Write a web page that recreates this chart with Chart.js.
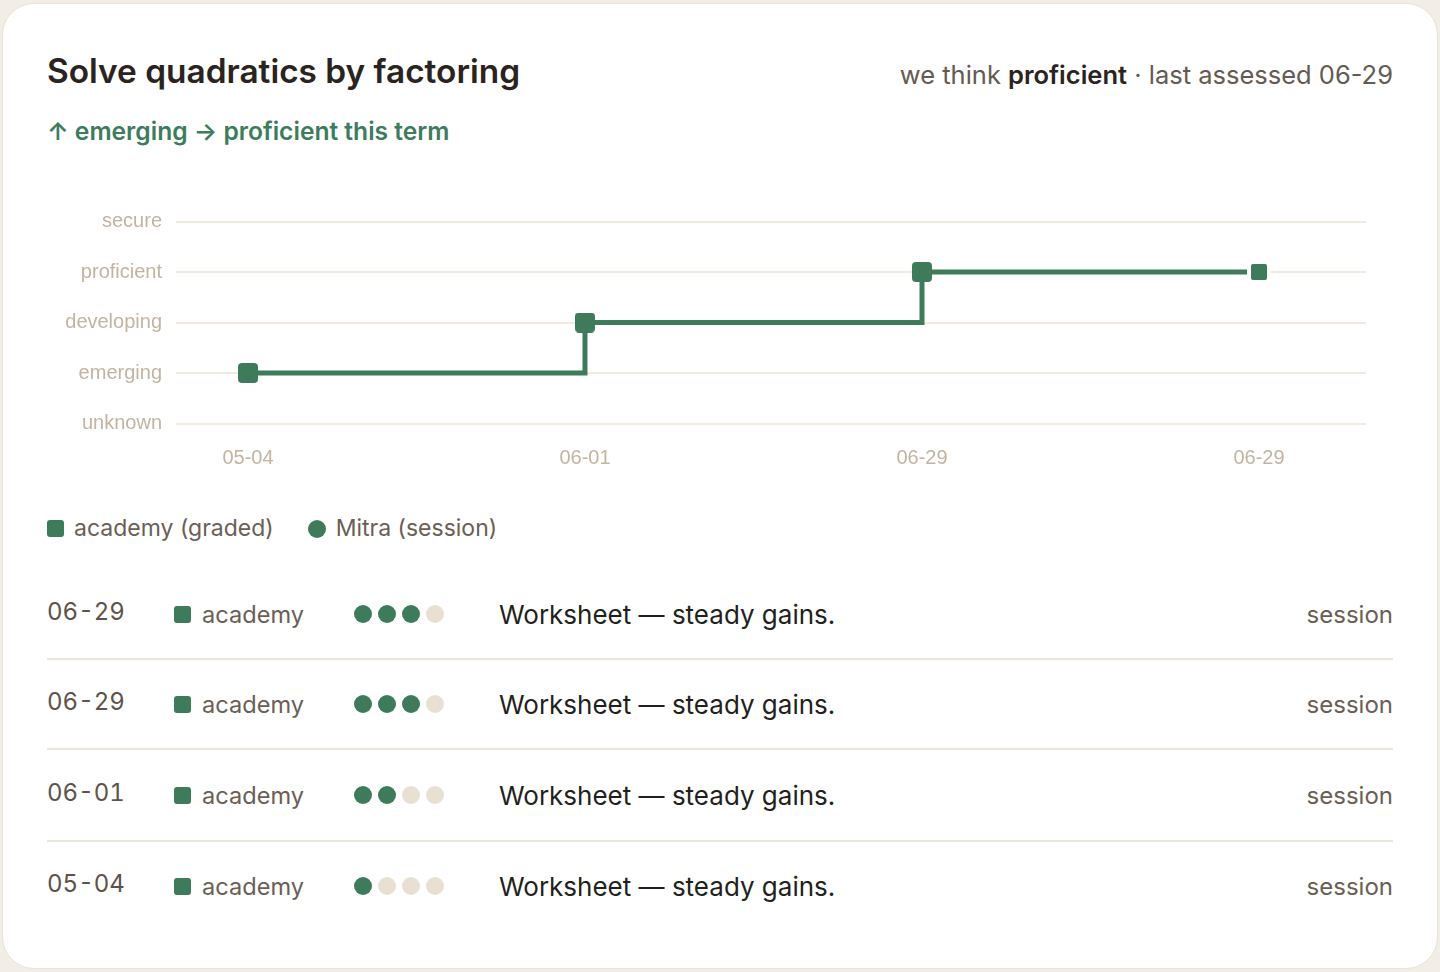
<!DOCTYPE html>
<html>
<head>
<meta charset="utf-8">
<script src="https://cdn.jsdelivr.net/npm/chart.js@4/dist/chart.umd.min.js"></script>
<style>
  html, body { margin: 0; padding: 0; }
  body {
    width: 1440px; height: 972px; overflow: hidden;
    background: #f2eee5;
    font-family: Inter, "Noto Sans", sans-serif;
    position: relative;
  }
  .card {
    position: absolute; left: 2px; top: 3px; width: 1434px; height: 964px;
    background: #fff; border: 1px solid #e9e3d7; border-radius: 32px;
  }
  .abs { position: absolute; line-height: 1; white-space: nowrap; }
  .title { left: 47px; top: 55px; font-size: 33.4px; font-weight: 600; color: #2a2320; }
  .status { right: 47px; top: 62px; font-size: 25.5px; color: #655a51; }
  .status b { color: #2a2320; font-weight: 600; }
  .trend { left: 47px; top: 119px; font-size: 24.6px; font-weight: 600; color: #3d7c5c; }
  #chart-wrap { position: absolute; left: 0; top: 190px; width: 1440px; height: 290px; }
  .legend { left: 47px; top: 517px; font-size: 23px; color: #6a5e55; display: flex; align-items: center; }
  .legend .sq { width: 17px; height: 17px; border-radius: 3px; background: #3e7b5b; margin-right: 10px; }
  .legend .ci { width: 18px; height: 18px; border-radius: 50%; background: #3e7b5b; margin: 0 10px 0 34px; }
  #rows { position: absolute; left: 47px; top: 570px; width: 1346px; }
  .row { height: 88px; display: flex; align-items: center; border-bottom: 2px solid #ece6da; position: relative; }
  .row:nth-child(3) { height: 90px; }
  .row:last-child { border-bottom: none; }
  .date { width: 127px; font-size: 24px; color: #5d534b; letter-spacing: 0; font-variant-numeric: tabular-nums; margin-top: -6px; }
  .src { width: 180px; display: flex; align-items: center; font-size: 23.6px; color: #6a5e55; }
  .src .sq { width: 17px; height: 17px; border-radius: 3px; background: #3e7b5b; margin-right: 11px; }
  .dots { width: 145px; display: flex; gap: 6px; }
  .dot { width: 18px; height: 18px; border-radius: 50%; background: #e8e0d3; }
  .dot.on { background: #3e7b5b; }
  .note { font-size: 26px; color: #231f1c; }
  .kind { position: absolute; right: 0; font-size: 24px; color: #6a5e55; }
</style>
</head>
<body>
<div class="card"></div>
<div class="abs title">Solve quadratics by factoring</div>
<div class="abs status">we think <b>proficient</b> · last assessed 06-29</div>
<div class="abs trend">↑ emerging → proficient this term</div>
<div id="chart-wrap"><canvas id="mastery-chart"></canvas></div>
<div class="abs legend"><span class="sq"></span>academy (graded)<span class="ci"></span>Mitra (session)</div>
<div id="rows"></div>

<script>
// ─── Data ───────────────────────────────────────────────────────────────────

const levelLabels = ['unknown', 'emerging', 'developing', 'proficient', 'secure'];
const dateLabels = ['05-04', '06-01', '06-29', '06-29'];
const levelValues = [1, 2, 3, 3];

const evidenceDates = ['06-29', '06-29', '06-01', '05-04'];
const evidenceSources = ['academy', 'academy', 'academy', 'academy'];
const evidenceScores = [3, 3, 2, 1];
const evidenceNotes = ['Worksheet — steady gains.', 'Worksheet — steady gains.', 'Worksheet — steady gains.', 'Worksheet — steady gains.'];
const evidenceKinds = ['session', 'session', 'session', 'session'];

const GREEN = '#3e7b5b';

// ─── Marker images ──────────────────────────────────────────────────────────

function roundedSquare(size, radius, fill, halo) {
  const c = document.createElement('canvas');
  const total = size + halo * 2;
  c.width = total; c.height = total;
  const ctx = c.getContext('2d');
  if (halo > 0) {
    ctx.fillStyle = '#fff';
    ctx.beginPath(); ctx.roundRect(0, 0, total, total, radius + 2); ctx.fill();
  }
  ctx.fillStyle = fill;
  ctx.beginPath(); ctx.roundRect(halo, halo, size, size, radius); ctx.fill();
  return c;
}

const bigMarker = roundedSquare(20, 4, GREEN, 0);
const lastMarker = roundedSquare(16, 2, GREEN, 4);

// ─── Chart ──────────────────────────────────────────────────────────────────

const tickFont = { family: '"Liberation Sans", Arial, sans-serif', size: 20 };
const tickColor = '#c3b4a0';

new Chart(document.getElementById('mastery-chart'), {
  type: 'line',
  data: {
    datasets: [{
      label: 'academy (graded)',
      data: levelValues.map((v, i) => ({ x: i, y: v })),
      borderColor: GREEN,
      borderWidth: 5,
      stepped: true,
      fill: false,
      pointStyle: levelValues.map((v, i) => i === levelValues.length - 1 ? lastMarker : bigMarker),
    }],
  },
  options: {
    responsive: true,
    maintainAspectRatio: false,
    animation: false,
    layout: { padding: { top: 31.5, right: 74, bottom: 0, left: 0 } },
    plugins: { legend: { display: false }, tooltip: { enabled: false } },
    scales: {
      x: {
        type: 'linear',
        min: -0.2136,
        max: 3.3175,
        grid: { display: false, drawTicks: false },
        border: { display: false },
        afterBuildTicks: s => { s.ticks = dateLabels.map((l, i) => ({ value: i })); },
        afterFit: s => { s.height = 56.5; },
        ticks: { padding: 23, color: tickColor, font: tickFont, maxRotation: 0, callback: v => dateLabels[v] },
      },
      y: {
        min: 0,
        max: 4,
        grid: { color: '#f0eadf', lineWidth: 2, drawTicks: false },
        border: { display: false },
        afterFit: s => { s.width = 176; },
        ticks: { stepSize: 1, padding: 14, color: tickColor, font: tickFont, callback: v => levelLabels[v] },
      },
    },
  },
});

// ─── Evidence rows ──────────────────────────────────────────────────────────

document.getElementById('rows').innerHTML = evidenceDates.map((d, i) => `
  <div class="row">
    <div class="date">${d}</div>
    <div class="src"><span class="sq"></span>${evidenceSources[i]}</div>
    <div class="dots">${[0, 1, 2, 3].map(k => `<span class="dot${k < evidenceScores[i] ? ' on' : ''}"></span>`).join('')}</div>
    <div class="note">${evidenceNotes[i]}</div>
    <div class="kind">${evidenceKinds[i]}</div>
  </div>
`).join('');
</script>
</body>
</html>
